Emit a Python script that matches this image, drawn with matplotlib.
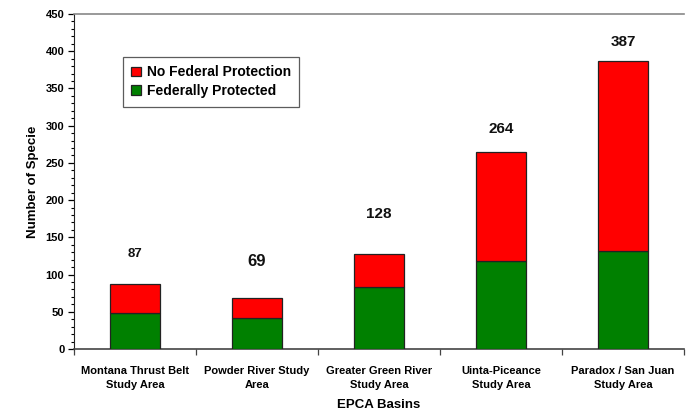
import matplotlib
matplotlib.use("Agg")
import matplotlib.pyplot as plt
import numpy as np
from matplotlib.ticker import MultipleLocator, FixedLocator

categories = ["Montana Thrust Belt\nStudy Area", "Powder River Study\nArea",
              "Greater Green River\nStudy Area", "Uinta-Piceance\nStudy Area",
              "Paradox / San Juan\nStudy Area"]
protected = [49, 41, 83, 118, 131]
totals = [87, 69, 128, 264, 387]
unprotected = [t - p for t, p in zip(totals, protected)]

label_offsets = [41, 48, 54, 32, 25]
label_sizes = [9.5, 12, 11, 11, 11]

plt.rcParams['font.family'] = ['Liberation Sans', 'DejaVu Sans']
plt.rcParams['font.weight'] = 'bold'

fig = plt.figure(figsize=(6.86, 4.12), dpi=100)
ax = fig.add_axes([74/686, 1-349/412, 610/686, 335/412])

x = np.arange(len(categories))
w = 0.41
ax.bar(x, protected, w, color='#008000', edgecolor='#222222', linewidth=0.9,
       label='Federally Protected', zorder=3)
ax.bar(x, unprotected, w, bottom=protected, color='#FF0000', edgecolor='#222222',
       linewidth=0.9, label='No Federal Protection', zorder=3)

for xi, t, off, fs in zip(x, totals, label_offsets, label_sizes):
    ax.text(xi, t + off, str(t), ha='center', va='center', fontsize=fs,
            fontweight='bold', color='#111111')

ax.set_xlim(-0.5, len(categories) - 0.5)
ax.set_ylim(0, 450)
ax.yaxis.set_major_locator(MultipleLocator(50))
ax.yaxis.set_minor_locator(MultipleLocator(10))
ax.tick_params(axis='y', which='major', length=4, width=0.9, labelsize=8, pad=3)
ax.tick_params(axis='y', which='minor', length=2.5, width=0.8)
ax.set_xticks(x)
ax.set_xticklabels(categories, fontsize=8, fontweight='bold', linespacing=1.55)
ax.xaxis.set_minor_locator(FixedLocator(np.arange(-0.5, len(categories), 1.0)))
ax.tick_params(axis='x', which='major', length=0, pad=12)
ax.tick_params(axis='x', which='minor', length=4, width=0.9, color='#444444')
for lab in ax.get_yticklabels():
    lab.set_fontweight('bold')

ax.spines['right'].set_visible(False)
ax.spines['top'].set_color('#888888')
ax.spines['top'].set_linewidth(1.2)
ax.spines['left'].set_color('#222222')
ax.spines['bottom'].set_color('#444444')
ax.spines['bottom'].set_linewidth(1.2)

ax.set_ylabel('Number of Specie', fontsize=9.5, fontweight='bold', labelpad=5)
ax.set_xlabel('EPCA Basins', fontsize=9.5, fontweight='bold', labelpad=6.5)

h, l = ax.get_legend_handles_labels()
leg = ax.legend(h[::-1], l[::-1], loc='upper left', bbox_to_anchor=((123-74)/610, (349-57)/335),
                fontsize=10, frameon=True, fancybox=False, edgecolor='#333333',
                handlelength=0.7, handleheight=0.7, handletextpad=0.4,
                borderpad=0.6, labelspacing=0.35, borderaxespad=0)
leg.get_frame().set_linewidth(0.9)
for t in leg.get_texts():
    t.set_fontweight('bold')

fig.savefig('out.png', dpi=100)
